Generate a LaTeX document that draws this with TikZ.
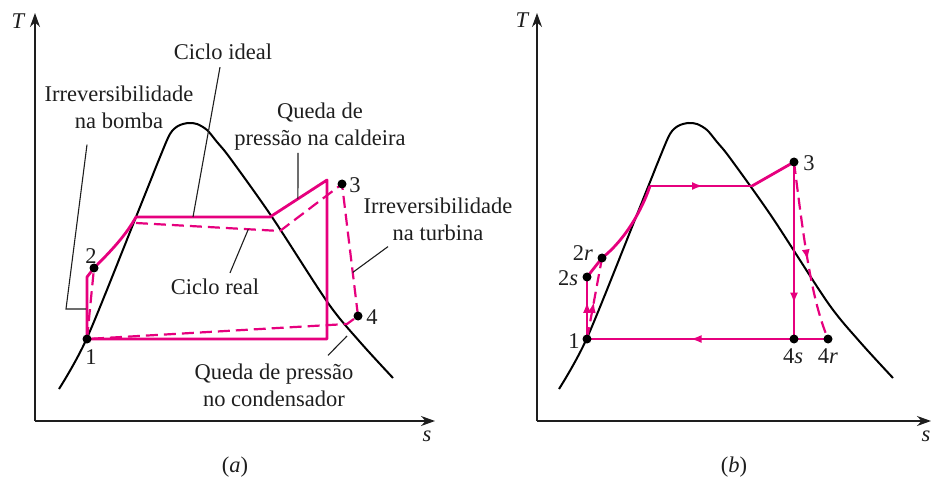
\documentclass[tikz,border=0pt]{standalone}
\usepackage{fontspec}
\setmainfont{Liberation Serif}
\usepackage{tikz}
\usetikzlibrary{arrows.meta,positioning,calc,decorations.markings}
\definecolor{CycleMagenta}{HTML}{E6007E}
\definecolor{InkGray}{HTML}{1E1E1E}
\newcommand{\diagfont}{\fontsize{22.5}{27}\selectfont}
\tikzset{
  axis/.style={draw=InkGray,line width=1.4pt,-{Stealth[length=14pt,width=10pt]}},
  dome/.style={draw=black,line width=2pt},
  ideal/.style={draw=CycleMagenta,line width=2.8pt,line join=round},
  real/.style={draw=CycleMagenta,line width=2.2pt,dash pattern=on 12pt off 6pt},
  leader/.style={draw=InkGray,line width=1.1pt},
  dot/.style={circle,fill=black,inner sep=0pt,minimum size=9pt},
  lbl/.style={font=\diagfont,text=InkGray,align=center,inner sep=2pt},
  midarrow/.style={postaction={decorate},decoration={markings,
    mark=at position #1 with {\arrow{Latex[length=11pt,width=8pt]}}}}
}

\begin{document}
\begin{tikzpicture}[x=1pt,y=-1pt]
  \useasboundingbox (0,0) rectangle (932,481);
  % saturation domes
  \foreach \dx in {0,500}{
    \begin{scope}[xshift=\dx]
      \draw[dome] plot[smooth,tension=0.5] coordinates {(59,389) (87,338) (136,217) (160,157)
        (170,134) (178,126) (188,123) (197,124) (207,130) (217,142) (230,158) (272,217)
        (328,303) (360,342) (393,378)};
    \end{scope}
  }
  % (a)
  \coordinate (aO) at (35,421);
  \coordinate (aT) at (35,13);
  \coordinate (aS) at (435,421);
  \draw[axis] (aO)--(aT);
  \draw[axis] (aO)--(aS);
  \coordinate (a1) at (87,339);
  \coordinate (a2) at (94,268);
  \coordinate (a3) at (342,184);
  \coordinate (a4) at (358,316);
  \coordinate (a1up) at (87,277);
  \coordinate (asat) at (136,217);
  \coordinate (avap) at (270,217);
  \coordinate (atop) at (327,180);
  \coordinate (abot) at (327,339);
  \coordinate (rsat) at (136,223);
  \coordinate (rvap) at (280,231);
  \coordinate (rcond) at (347,324);
  \draw[ideal] (a1)--(a1up)--(a2) .. controls (112,250) and (126,235) .. (asat)
    --(avap)--(atop)--(abot)--(a1);
  \draw[real] (a1)--(a2);
  \draw[real] (rsat)--(rvap)--(a3)--(a4)--(rcond)--(a1);
  \node[dot] (a1dot) at (a1) {};
  \node[dot] (a2dot) at (a2) {};
  \node[dot] (a3dot) at (a3) {};
  \node[dot] (a4dot) at (a4) {};
  \node[lbl] (a1lbl) at (91,357) {1};
  \node[lbl] (a2lbl) at (91,256) {2};
  \node[lbl] (a3lbl) at (355,185) {3};
  \node[lbl] (a4lbl) at (372,317) {4};
  \node[lbl] (aTlbl) at (18,21) {\itshape T};
  \node[lbl] (aSlbl) at (427,436) {\itshape s};
  \node[lbl] (acap) at (235,467) {(\textit{a})};
  \node[lbl] (ideallbl) at (223,52) {Ciclo ideal};
  \node[lbl] (bombalbl) at (119,107) {Irreversibilidade\\na bomba};
  \node[lbl] (caldlbl) at (320,127) {Queda de\\pressão na caldeira};
  \node[lbl] (turblbl) at (438,219) {Irreversibilidade\\na turbina};
  \node[lbl] (reallbl) at (215,287) {Ciclo real};
  \node[lbl] (condlbl) at (274,385) {Queda de pressão\\no condensador};
  \coordinate (idealpt) at (193,217);
  \coordinate (bombabend) at (66,309);
  \coordinate (pumppt) at (86,309);
  \coordinate (boilerpt) at ($(avap)!0.49!(atop)$);
  \coordinate (turbpt) at ($(a3)!0.67!(a4)$);
  \coordinate (realpt) at ($(rsat)!0.78!(rvap)$);
  \coordinate (condpt) at (347,336);
  \draw[leader] ([xshift=-3pt,yshift=-5pt]ideallbl.south)--(idealpt);
  \draw[leader] ([xshift=-32pt,yshift=-14pt]bombalbl.south)--(bombabend)--(pumppt);
  \draw[leader] ([xshift=-22pt]caldlbl.south)--(boilerpt);
  \draw[leader] ([xshift=-50pt,yshift=-4pt]turblbl.south)--(turbpt);
  \draw[leader] ([xshift=15pt,yshift=4pt]reallbl.north)--(realpt);
  \draw[leader] ([xshift=54pt,yshift=6pt]condlbl.north)--(condpt);
  % (b)
  \coordinate (bO) at (537,421);
  \coordinate (bT) at (537,13);
  \coordinate (bS) at (931,421);
  \draw[axis] (bO)--(bT);
  \draw[axis] (bO)--(bS);
  \coordinate (b1) at (587,339);
  \coordinate (b2s) at (587,277);
  \coordinate (b2r) at (602,258);
  \coordinate (bsat) at (650,186);
  \coordinate (bvap) at (752,186);
  \coordinate (b3) at (794,162);
  \coordinate (b4s) at (794,339);
  \coordinate (b4r) at (828,339);
  \draw[ideal,midarrow=0.6] (b1)--(b2s);
  \draw[ideal] (b2s)--(b2r) .. controls (625,240) and (642,210) .. (bsat);
  \draw[ideal,midarrow=0.52] (bsat)--(bvap);
  \draw[ideal] (bvap)--(b3);
  \draw[ideal,midarrow=0.8] (b3)--(b4s);
  \draw[ideal] (b4s)--(b4r);
  \draw[ideal,midarrow=0.5] (b4s)--(b1);
  \draw[real,midarrow=0.46] (b1)--(b2r);
  \draw[real,midarrow=0.55] (b3) .. controls (805,250) and (812,300) .. (b4r);
  \node[dot] (b1dot) at (b1) {};
  \node[dot] (b2sdot) at (b2s) {};
  \node[dot] (b2rdot) at (b2r) {};
  \node[dot] (b3dot) at (b3) {};
  \node[dot] (b4sdot) at (b4s) {};
  \node[dot] (b4rdot) at (b4r) {};
  \node[lbl] (b1lbl) at (574,341) {1};
  \node[lbl] (b2slbl) at (568,278) {2\textit{s}};
  \node[lbl] (b2rlbl) at (583,253) {2\textit{r}};
  \node[lbl] (b3lbl) at (809,163) {3};
  \node[lbl] (b4slbl) at (793,356) {4\textit{s}};
  \node[lbl] (b4rlbl) at (828,356) {4\textit{r}};
  \node[lbl] (bTlbl) at (522,20) {\itshape T};
  \node[lbl] (bSlbl) at (926,436) {\itshape s};
  \node[lbl] (bcap) at (734,467) {(\textit{b})};
\end{tikzpicture}
\end{document}
